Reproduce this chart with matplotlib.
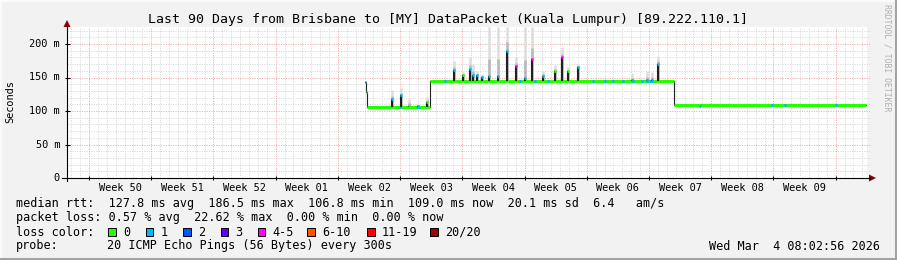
import numpy as np
import matplotlib
matplotlib.use("Agg")
import matplotlib.pyplot as plt
from matplotlib.patches import Rectangle, Polygon
from matplotlib.lines import Line2D

# ---------------- data (x in days since graph start, y in ms) ----------------
title = "Last 90 Days from Brisbane to [MY] DataPacket (Kuala Lumpur) [89.222.110.1]"
week_labels = ["Week 50", "Week 51", "Week 52", "Week 01", "Week 02", "Week 03",
               "Week 04", "Week 05", "Week 06", "Week 07", "Week 08", "Week 09"]
ytick_vals = [0, 50, 100, 150, 200]
ytick_labels = ["0", "50 m", "100 m", "150 m", "200 m"]

# median rtt plateaus
seg_start = [33.52, 33.66, 33.78, 40.84, 68.32]
seg_end   = [33.66, 33.78, 40.84, 68.32, 89.88]
seg_ms    = [143.0, 129.0, 106.5, 145.0, 109.5]
seg_loss  = [1, 0, 0, 0, 0]

# median spikes: day, median peak, smoke top, loss class at peak
spike_day  = [36.53, 37.57, 38.47, 39.49, 40.50, 43.50, 44.52, 45.34, 45.71, 46.16,
              46.65, 47.51, 48.45, 49.53, 50.51, 51.52, 52.35, 53.55, 54.90, 55.72,
              56.36, 57.45, 63.53, 65.25, 65.81, 66.52]
spike_ms   = [118, 124, 108, 108, 114, 161, 153, 163, 154, 153,
              151, 152, 152, 190, 167, 150, 177, 152, 160, 180,
              160, 165, 146, 146, 147, 170]
spike_max  = [131, 134, 118, 110, 121, 175, 158, 180, 170, 160,
              155, 225, 225, 225, 180, 225, 225, 160, 168, 195,
              165, 170, 157, 160, 158, 182]
spike_loss = [1, 1, 0, 1, 0, 1, 0, 1, 1, 1,
              1, 1, 1, 1, 4, 1, 4, 1, 0, 4,
              0, 1, 1, 1, 1, 1]

# single samples on the plateaus with 1/20 loss
dab_day = [37.46, 39.49, 42.50, 50.96, 52.65, 54.10, 59.17, 60.53, 61.43, 62.55,
           63.67, 64.69, 65.25, 65.59, 65.81, 71.20, 79.28, 80.77, 86.51]
dab_ms  = [106.5, 106.5, 145, 145, 145, 145, 145, 145, 145, 145,
           145, 145, 145, 145, 145, 107.5, 109.5, 109.5, 109.5]

loss_colors = ["#26ff00", "#00b8ff", "#0059ff", "#5e00ff", "#ff00ff",
               "#ff5500", "#ff0000", "#a10000"]
loss_names = ["0", "1", "2", "3", "4-5", "6-10", "11-19", "20/20"]

legend_rtt = "median rtt:  127.8 ms avg  186.5 ms max  106.8 ms min  109.0 ms now  20.1 ms sd  6.4   am/s"
legend_loss = "packet loss: 0.57 % avg  22.62 % max  0.00 % min  0.00 % now"
probe_text = "20 ICMP Echo Pings (56 Bytes) every 300s"
stamp_text = "Wed Mar  4 08:02:56 2026"

# ---------------- layout ----------------
W, H = 897, 260
def fx(px): return px / W
def fy(py): return 1 - py / H

MONO = "DejaVu Sans Mono"
BG = "#f2f2f2"

fig = plt.figure(figsize=(W / 100, H / 100), dpi=100, facecolor=BG)
ax = fig.add_axes([fx(67), fy(178), 800 / W, 151 / H])
ax.set_facecolor("white")
ax.set_xlim(0, 90)
ax.set_ylim(0, 151 / 0.67)
for s in ax.spines.values():
    s.set_visible(False)
ax.tick_params(length=0, labelbottom=False, labelleft=False)

# grid
week0 = 2.475
minor_x = [week0 + n for n in range(-2, 88) if 0 < week0 + n < 90 and n % 7 != 0]
major_x = [week0 + 7 * k for k in range(13)]
minor_y = [v for v in range(10, 226, 10) if v % 50 != 0]
major_y = [50, 100, 150, 200]
ls = (0, (1, 1.4))
ax.vlines(minor_x, 0, 225.4, colors="#d6d6d6", lw=0.72, linestyles=ls, zorder=0)
ax.hlines(minor_y, 0, 90.3, colors="#d6d6d6", lw=0.72, linestyles=ls, zorder=0, clip_on=False)
ax.vlines(major_x, 0, 225.4, colors="#f3a4a4", lw=0.72, linestyles=ls, zorder=0.5)
ax.hlines(major_y, 0, 90.3, colors="#f3a4a4", lw=0.72, linestyles=ls, zorder=0.5, clip_on=False)

# base level under each spike
def base_at(d):
    for a, b, v in zip(seg_start, seg_end, seg_ms):
        if a <= d <= b:
            return v
    return seg_ms[-1]

spike_base = [base_at(d) for d in spike_day]

# smoke
ax.vlines(spike_day, spike_base, spike_max, colors="#dddddd", lw=1.8, zorder=1)
mid_smoke = [p + (m - p) * 0.35 for p, m in zip(spike_ms, spike_max)]
ax.vlines(spike_day, spike_base, mid_smoke, colors="#b8b8b8", lw=1.8, zorder=1.1)

# thin black median line (step)
xs, ys = [], []
for a, b, v in zip(seg_start, seg_end, seg_ms):
    xs += [a, b]
    ys += [v, v]
ax.plot(xs, ys, color="#202020", lw=0.8, zorder=2)

# thick loss-coloured median
ax.hlines(seg_ms, seg_start, seg_end, colors=[loss_colors[l] for l in seg_loss],
          lw=2.2, zorder=3)
ax.hlines(dab_ms, [d - 0.12 for d in dab_day], [d + 0.12 for d in dab_day],
          colors=loss_colors[1], lw=2.2, zorder=3.1)

# spikes
ax.vlines(spike_day, spike_base, spike_ms, colors="#202020", lw=1.5, zorder=4)
ax.hlines(spike_ms, [d - 0.13 for d in spike_day], [d + 0.13 for d in spike_day],
          colors=[loss_colors[l] for l in spike_loss], lw=2.0, zorder=4.1)

# axes lines, arrows, ticks
arrow = "#8b0000"
fig.add_artist(Line2D([fx(62), fx(870)], [fy(178), fy(178)], color="black", lw=0.8))
fig.add_artist(Line2D([fx(67), fx(67)], [fy(181), fy(27)], color="black", lw=0.8))
fig.add_artist(Polygon([(fx(869), fy(174.5)), (fx(869), fy(181.5)), (fx(876), fy(178))],
                       closed=True, color=arrow, lw=0))
fig.add_artist(Polygon([(fx(63.5), fy(27)), (fx(70.5), fy(27)), (fx(67), fy(20))],
                       closed=True, color=arrow, lw=0))
ax.hlines(ytick_vals[1:], -2.5 / 800, 2.5 / 800, transform=ax.get_yaxis_transform(),
          colors="black", lw=0.8, clip_on=False)
ax.vlines(major_x, -2 / 151, 2 / 151, transform=ax.get_xaxis_transform(),
          colors="black", lw=0.8, clip_on=False)

# tick labels
for v, lab in zip(ytick_vals, ytick_labels):
    ax.text(-7 / 800, v, lab, transform=ax.get_yaxis_transform(), ha="right",
            va="center", family=MONO, fontsize=7.4)
for k, lab in enumerate(week_labels):
    ax.text(week0 + 3.5 + 7 * k, -9.8 / 151, lab, transform=ax.get_xaxis_transform(),
            ha="center", va="center", family=MONO, fontsize=7.4)

# title, y label, watermark
fig.text(fx(448), fy(19), title, ha="center", va="center", family=MONO, fontsize=9.5)
fig.text(fx(10), fy(102), "Seconds", rotation=90, ha="center", va="center",
         family=MONO, fontsize=7.4)
fig.text(fx(887), fy(4), "RRDTOOL / TOBI OETIKER", rotation=270, ha="center", va="top",
         family=MONO, fontsize=5.9, color="#b0b0b0")

# legend
fig.text(fx(16), fy(204), legend_rtt, ha="left", va="center", family=MONO, fontsize=8.5)
fig.text(fx(16), fy(218), legend_loss, ha="left", va="center", family=MONO, fontsize=8.5)
fig.text(fx(16), fy(232), "loss color:", ha="left", va="center", family=MONO, fontsize=8.5)
box_x = [108.3, 145.7, 183.3, 220.7, 257.7, 307.3, 367.3, 430.0]
for bx, col, name in zip(box_x, loss_colors, loss_names):
    fig.add_artist(Rectangle((fx(bx), fy(235.6)), 7.6 / W, 7.6 / H, facecolor=col,
                             edgecolor="black", lw=0.7))
    fig.text(fx(bx + 14.8), fy(232), name, ha="left", va="center", family=MONO, fontsize=8.5)
fig.text(fx(16), fy(246), "probe:", ha="left", va="center", family=MONO, fontsize=8.5)
fig.text(fx(107.3), fy(246), probe_text, ha="left", va="center", family=MONO, fontsize=8.5)
fig.text(fx(880), fy(246), stamp_text, ha="right", va="center", family=MONO, fontsize=8.5)

# frame
fig.add_artist(Line2D([0, 1], [fy(0.7), fy(0.7)], color="#fdfdfd", lw=1.2))
fig.add_artist(Line2D([fx(0.7), fx(0.7)], [0, 1], color="#fdfdfd", lw=1.2))
fig.add_artist(Line2D([0, 1], [fy(258.5), fy(258.5)], color="#a2a2a2", lw=2.2))
fig.add_artist(Line2D([fx(895.5), fx(895.5)], [0, 1], color="#a2a2a2", lw=2.2))

fig.savefig("out.png", dpi=100, facecolor=BG)
